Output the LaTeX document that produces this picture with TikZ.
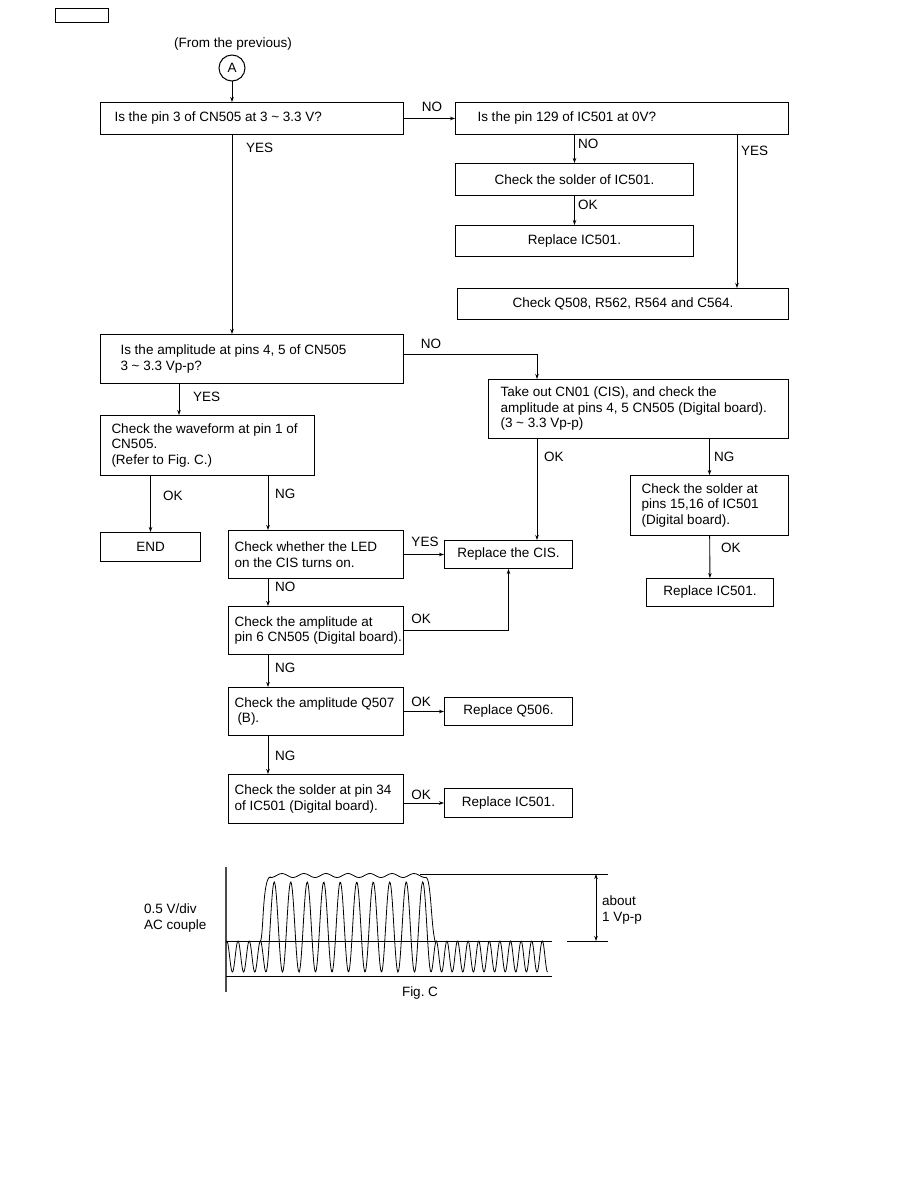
\documentclass[tikz,border=0pt]{standalone}
\usepackage{fontspec}
\setmainfont{Liberation Sans}
\usetikzlibrary{arrows.meta}
\frenchspacing

\begin{document}
\begin{tikzpicture}[x=1pt, y=-1pt,
  every node/.style={font=\fontsize{13.5}{15.5}\selectfont},
  box/.style={draw, line width=1pt, anchor=north west, inner ysep=0pt, align=flush left},
  cbox/.style={box, align=flush center, inner xsep=4pt},
  link/.style={-{Stealth[length=5pt,width=3.5pt]}, line width=0.9pt},
  lbl/.style={inner sep=0pt}]
  \useasboundingbox (0,0) rectangle (918,1188);

  % Page tag and entry
  \node[draw, line width=0.8pt, anchor=north west, inner sep=0pt,
    minimum width=53, minimum height=14] (tag) at (55,8) {};
  \node (from) at (233,44) {(From the previous)};
  \node[draw, circle, line width=1pt, minimum size=26, inner sep=0pt] (A) at (232,68) {A};

  % Guide coordinates for vertical runs
  \coordinate (xa) at (537,0);
  \coordinate (xc) at (737,0);
  \coordinate (xd) at (179,0);
  \coordinate (xe) at (268,0);

  % Boxes
  \node[box, minimum height=32, text width=275pt, inner xsep=14pt] (q1) at (100,102)
    {Is the pin 3 of CN505 at 3 \textasciitilde\ 3.3 V?};
  \node[box, minimum height=32, text width=289pt, inner xsep=22pt] (q2) at (455,102)
    {Is the pin 129 of IC501 at 0V?};
  \node[cbox, minimum height=32, text width=230pt] (sold) at (455,163) {Check the solder of IC501.};
  \node[cbox, minimum height=31, text width=230pt] (rep1) at (455,225) {Replace IC501.};
  \node[cbox, minimum height=31, text width=323pt] (chkq) at (457,288) {Check Q508, R562, R564 and C564.};
  \node[box, minimum height=49, text width=263pt, inner xsep=20pt] (q3) at (100,334)
    {Is the amplitude at pins 4, 5 of CN505\\3 \textasciitilde\ 3.3 Vp-p?};
  \node[box, minimum height=59, text width=276pt, inner xsep=12pt] (take) at (488,379)
    {Take out CN01 (CIS), and check the\\\mbox{amplitude at pins 4, 5 CN505 (Digital board).}\\(3 \textasciitilde\ 3.3 Vp-p)};
  \node[box, minimum height=60, text width=192pt, inner xsep=11pt] (wave) at (100,415)
    {\mbox{Check the waveform at pin 1 of}\\CN505.\\(Refer to Fig. C.)};
  \node[cbox, minimum height=29, text width=92pt] (endn) at (100,532) {END};
  \node[box, minimum height=48, text width=163pt, inner xsep=6pt] (led) at (228,530)
    {Check whether the LED\\on the CIS turns on.};
  \node[cbox, minimum height=28, text width=120pt] (cis) at (444,540) {Replace the CIS.};
  \node[box, minimum height=60, text width=136pt, inner xsep=11pt] (solc) at (630,475)
    {Check the solder at\\pins 15,16 of IC501\\(Digital board).};
  \node[cbox, minimum height=28, text width=119pt] (rep2) at (646,578) {Replace IC501.};
  \node[box, minimum height=48, text width=163pt, inner xsep=6pt] (amp6) at (228,606)
    {Check the amplitude at\\\mbox{pin 6 CN505 (Digital board).}};
  \node[box, minimum height=48, text width=163pt, inner xsep=6pt] (q507) at (228,687)
    {\mbox{Check the amplitude Q507}\\\hspace*{3pt}(B).};
  \node[cbox, minimum height=28, text width=120pt] (rq506) at (444,697) {Replace Q506.};
  \node[box, minimum height=49, text width=163pt, inner xsep=6pt] (sol34) at (228,774)
    {Check the solder at pin 34\\of IC501 (Digital board).};
  \node[cbox, minimum height=29, text width=120pt] (rep3) at (444,788) {Replace IC501.};

  % Connectors
  \draw[link] (A) -- (q1.north -| A);
  \draw[link] (q1.east) -- (q2.west);
  \draw[link] (q2.south -| sold.north) -- (sold.north);
  \draw[link] (sold) -- (rep1);
  \draw[link] (q2.south -| xc) -- (chkq.north -| xc);
  \draw[link] (q1.south -| A) -- (q3.north -| A);
  \draw[link] ([yshift=5pt]q3.east) -| (take.north -| xa);
  \draw[link] (take.south -| xa) -- (cis.north -| xa);
  \draw[link] (take.south -| solc.north) -- (solc.north);
  \draw[link] (solc) -- (rep2);
  \draw[link] (q3.south -| xd) -- (wave.north -| xd);
  \draw[link] (wave.south -| endn.north) -- (endn.north);
  \draw[link] (wave.south -| xe) -- (led.north -| xe);
  \draw[link] (led.east) -- (cis.west);
  \draw[link] (led.south -| xe) -- (amp6.north -| xe);
  \draw[link] (amp6.east) -| (cis.south);
  \draw[link] (amp6.south -| xe) -- (q507.north -| xe);
  \draw[link] (q507.east) -- (rq506.west);
  \draw[link] (q507.south -| xe) -- (sol34.north -| xe);
  \draw[link] (rep3.west -| sol34.east) -- (rep3.west);

  % Branch labels
  \node (lno1) at (432,107) {NO};
  \node[lbl, anchor=west] (lno2) at (578,144) {NO};
  \node[lbl, anchor=west] (lok1) at (578,205) {OK};
  \node[lbl, anchor=west] (lyes1) at (741,151) {YES};
  \node[lbl, anchor=west] (lyes2) at (246,148) {YES};
  \node (lno3) at (431,344) {NO};
  \node[lbl, anchor=west] (lyes3) at (193,397) {YES};
  \node[lbl, anchor=west] (lok2) at (163,496) {OK};
  \node[lbl, anchor=west] (lng1) at (275,494) {NG};
  \node[lbl, anchor=west] (lok3) at (544,457) {OK};
  \node[lbl, anchor=west] (lng2) at (714,457) {NG};
  \node[lbl, anchor=west] (lok4) at (721,548) {OK};
  \node (lyes4) at (425,542) {YES};
  \node[lbl, anchor=west] (lno4) at (275,587) {NO};
  \node (lok5) at (421,619) {OK};
  \node[lbl, anchor=west] (lng3) at (275,668) {NG};
  \node (lok6) at (421,702) {OK};
  \node[lbl, anchor=west] (lng4) at (275,756) {NG};
  \node (lok7) at (421,795) {OK};

  % Fig. C waveform
  \draw[black!70, line width=1.3pt] (226,867) -- (226,992);
  \draw[line width=0.9pt] (226,941) -- (552,941);
  \draw[line width=0.9pt] (226,976) -- (552,976);
  \draw[line width=0.9pt] (420,874) -- (608,874);
  \draw[line width=0.9pt] (567,941) -- (608,941);
  \draw[{Stealth[length=5pt,width=3.5pt]}-{Stealth[length=5pt,width=3.5pt]}, line width=0.9pt]
    (596,874) -- (596,941);
  \draw[line width=0.8pt, samples=90, domain=226:266]
    plot (\x, {956.5+15.5*cos((\x-266)/11.2*360)});
  \draw[line width=0.8pt, samples=240, domain=266:431]
    plot (\x, {927+45*cos((\x-266)/16.5*360)});
  \draw[line width=0.8pt, samples=240, domain=431:547.6]
    plot (\x, {956.5+15.5*cos((\x-431)/10.6*360)});
  \draw[line width=0.8pt] (260.5,941) .. controls (263.5,936) and (262.5,879) .. (270,877)
    -- plot[samples=80, domain=270:426] (\x, {875.5-2*cos((\x-282)/22*360)})
    .. controls (431,878) and (431,925) .. (435,941);
  \node[align=left, anchor=west, lbl] (vdiv) at (144,918) {0.5 V/div\\AC couple};
  \node[align=left, anchor=west, lbl] (about) at (602,910) {about\\1 Vp-p};
  \node (figc) at (420,993) {Fig. C};
\end{tikzpicture}
\end{document}
